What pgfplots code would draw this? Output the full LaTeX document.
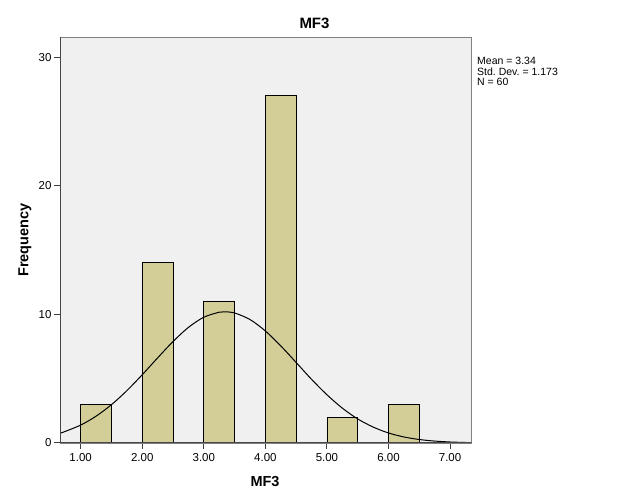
\documentclass[border=0pt]{standalone}
\usepackage{fontspec}
\setmainfont{Liberation Sans}
\usepackage{pgfplots}
\pgfplotsset{compat=1.18}
\definecolor{barfill}{RGB}{211,206,151}
\definecolor{plotbg}{RGB}{240,240,240}
\begin{document}
\begin{tikzpicture}[x=1bp,y=1bp]
\useasboundingbox (0,0) rectangle (629,504);
\begin{axis}[
  at={(60bp,61bp)}, anchor=south west,
  scale only axis, width=411bp, height=406bp,
  xmin=0.664, xmax=7.34, ymin=0, ymax=31.57,
  axis background/.style={fill=plotbg},
  axis line style={draw=black!50, line width=0.8bp},
  tick pos=left, tick align=outside, major tick length=6bp,
  tick style={black!75, line width=1bp},
  xtick={1,2,3,4,5,6,7},
  ytick={0,10,20,30},
  xticklabel style={/pgf/number format/fixed, /pgf/number format/fixed zerofill, /pgf/number format/precision=2, yshift=-1bp},
  /pgf/number format/assume math mode=true,
  ticklabel style={font=\fontsize{11.5bp}{13bp}\selectfont},
  yticklabel style={xshift=1bp},
]
\addplot[ybar, bar width=0.5, bar shift=0.25, fill=barfill, draw=black, line width=0.9bp]
  coordinates {(1,3) (2,14) (3,11) (4,27) (5,2) (6,3)};
\addplot[smooth, black, line width=1bp, no marks] coordinates {
(0.664,0.78) (0.7,0.811) (1.0,1.394) (1.25,2.086) (1.5,2.98) (1.75,4.07) (2.0,5.31)
(2.25,6.62) (2.5,7.89) (2.75,8.99) (3.0,9.78) (3.25,10.17) (3.34,10.20) (3.5,10.11)
(3.75,9.60) (4.0,8.71) (4.25,7.55) (4.5,6.26) (4.75,4.95) (5.0,3.75) (5.25,2.71)
(5.5,1.87) (5.75,1.24) (6.0,0.779) (6.25,0.470) (6.5,0.271) (6.75,0.149) (7.0,0.078)
(7.25,0.039) (7.34,0.032)};
\draw[black!72, line width=1.3bp] (rel axis cs:0,1) -- (rel axis cs:0,0) -- (rel axis cs:1,0);
\end{axis}
\node[font=\bfseries\fontsize{15bp}{17bp}\selectfont] at (314.5,481) {MF3};
\node[font=\bfseries\fontsize{14.5bp}{17bp}\selectfont] at (265,22) {MF3};
\node[font=\bfseries\fontsize{14.5bp}{17bp}\selectfont, rotate=90] at (25,264) {Frequency};
\node[anchor=north west, inner sep=0pt, align=left, font=\fontsize{10.5bp}{10.5bp}\selectfont] at (477,446.7)
  {Mean = 3.34\\Std.\ Dev.\ = 1.173\\N = 60};
\end{tikzpicture}
\end{document}
